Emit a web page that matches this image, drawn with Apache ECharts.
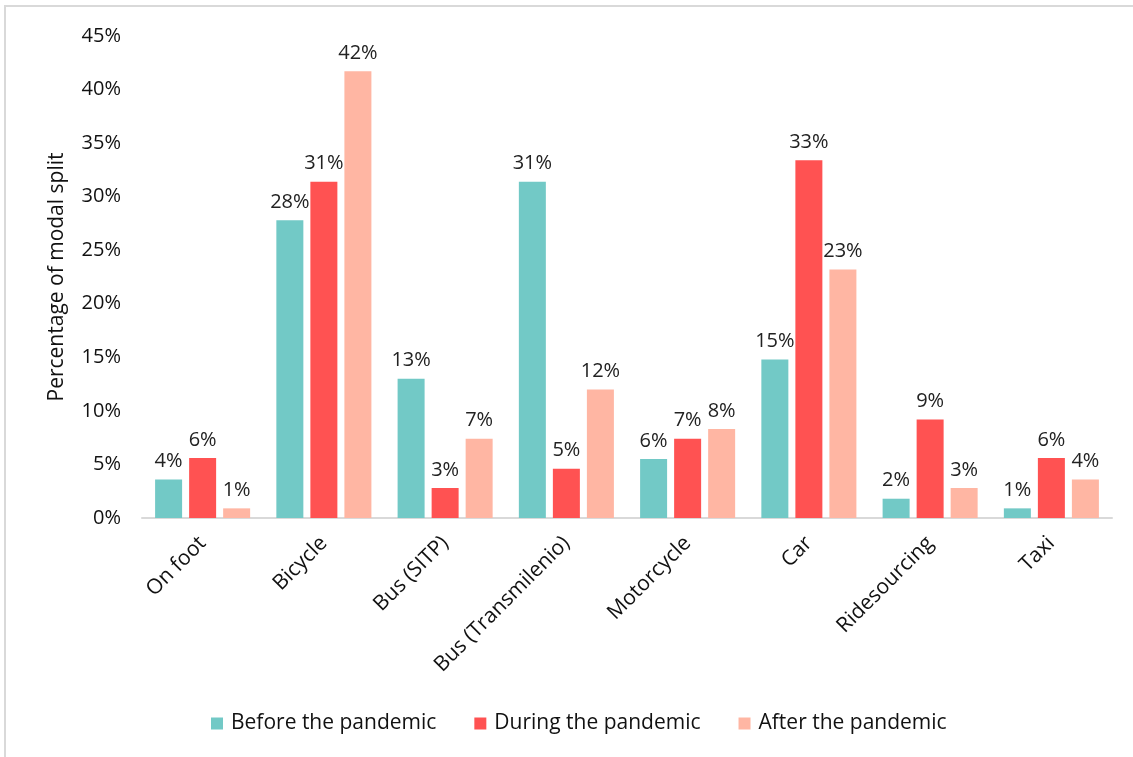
<!DOCTYPE html>
<html>
<head>
<meta charset="utf-8">
<script src="https://cdn.jsdelivr.net/npm/echarts@6/dist/echarts.min.js"></script>
<style>
  html, body { margin: 0; padding: 0; background: #fff; }
  #frame {
    position: absolute; left: 4px; top: 5px; width: 1140px; height: 760px;
    border-left: 2px solid #d9d9d9; border-top: 2px solid #d9d9d9;
  }
  #container { position: absolute; left: 0; top: 0; width: 1133px; height: 757px; }
</style>
</head>
<body>
<div id="frame"></div>
<div id="container"></div>
<script>
// modal split per mode, in percent
const categories = ["On foot", "Bicycle", "Bus (SITP)", "Bus (Transmilenio)", "Motorcycle", "Car", "Ridesourcing", "Taxi"];
const seriesNames = ["Before the pandemic", "During the pandemic", "After the pandemic"];
const before = [3.6, 27.8, 13.0, 31.4, 5.5, 14.8, 1.8, 0.9];
const during = [5.6, 31.4, 2.8, 4.6, 7.4, 33.4, 9.2, 5.6];
const after = [0.9, 41.7, 7.4, 12.0, 8.3, 23.2, 2.8, 3.6];
const colors = ["#72C9C6", "#FF5252", "#FFB6A3"];

const font = "'Open Sans', sans-serif";

function echartSetup(container) {
  let myChart = echarts.init(document.getElementById(container)),
    series = [],
    values = [before, during, after];

  for (let i = 0; i < values.length; i++) {
    series.push({
      name: seriesNames[i],
      type: "bar",
      barWidth: 27,
      barGap: "26%",
      itemStyle: { color: colors[i] },
      label: {
        show: true,
        position: "top",
        distance: 8,
        color: "#222",
        fontFamily: font,
        fontSize: 20,
        formatter: function (p) {
          return Math.round(p.value) + "%";
        }
      },
      data: values[i]
    });
  }

  let option = {
    animation: false,
    textStyle: { fontFamily: font },
    legend: {
      bottom: 18,
      left: 206,
      itemWidth: 12,
      itemHeight: 12,
      itemGap: 38,
      icon: "rect",
      textStyle: { fontSize: 21, color: "#111", fontFamily: font, padding: [0, 0, 0, 3] },
      data: seriesNames
    },
    grid: {
      left: 142,
      right: 21,
      top: 36,
      bottom: 239,
      containLabel: false
    },
    xAxis: {
      type: "category",
      data: categories,
      axisLine: { lineStyle: { color: "#d9d9d9", width: 2 } },
      axisTick: { show: false },
      axisLabel: {
        rotate: 45,
        margin: 22,
        interval: 0,
        color: "#111",
        fontSize: 21,
        fontFamily: font
      }
    },
    yAxis: {
      type: "value",
      min: 0,
      max: 45,
      interval: 5,
      name: "Percentage of modal split",
      nameLocation: "middle",
      nameGap: 74,
      nameTextStyle: { fontSize: 21, color: "#111", fontFamily: font },
      splitLine: { show: false },
      axisLine: { show: false },
      axisTick: { show: false },
      axisLabel: {
        formatter: "{value}%",
        margin: 21,
        color: "#111",
        fontSize: 20,
        fontFamily: font
      }
    },
    series: series
  };
  myChart.setOption(option);
}

echartSetup("container");
</script>
</body>
</html>
